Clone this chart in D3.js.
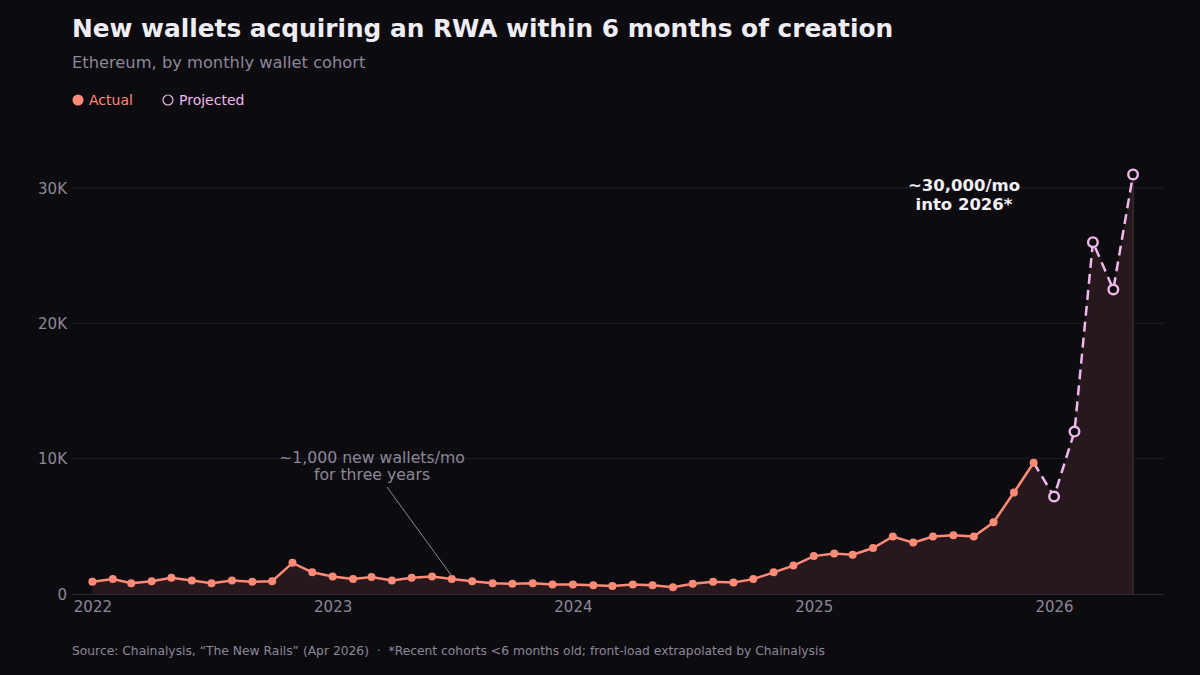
<!DOCTYPE html>
<html><head><meta charset="utf-8">
<script src="https://cdn.jsdelivr.net/npm/d3@7"></script>
<style>
html,body{margin:0;padding:0;background:#0c0b10;}
svg{display:block;font-family:"DejaVu Sans",sans-serif;}
text{white-space:pre;}
</style></head>
<body><svg id="c" width="1200" height="675"></svg>
<script>
const months = ["2022-01","2022-02","2022-03","2022-04","2022-05","2022-06","2022-07","2022-08","2022-09","2022-10","2022-11","2022-12",
"2023-01","2023-02","2023-03","2023-04","2023-05","2023-06","2023-07","2023-08","2023-09","2023-10","2023-11","2023-12",
"2024-01","2024-02","2024-03","2024-04","2024-05","2024-06","2024-07","2024-08","2024-09","2024-10","2024-11","2024-12",
"2025-01","2025-02","2025-03","2025-04","2025-05","2025-06","2025-07","2025-08","2025-09","2025-10","2025-11","2025-12"];
const actual = [900,1100,800,950,1200,1000,800,1000,900,950,2300,1600,
1300,1100,1250,1000,1200,1300,1100,950,800,750,800,700,
700,650,600,700,650,500,750,900,850,1100,1600,2100,
2800,3000,2900,3400,4250,3800,4250,4350,4250,5300,7500,9700];
const projMonths = ["2025-12","2026-01","2026-02","2026-03","2026-04","2026-05"];
const projected = [9700,7200,12000,26000,22500,31000];
const yTicks = [0,10000,20000,30000];
const yTickLabels = ["0","10K","20K","30K"];
const xTickYears = ["2022","2023","2024","2025","2026"];

const svg = d3.select("#c");
const parse = d3.timeParse("%Y-%m");
const x = d3.scaleTime().domain([new Date(2021,11,1), new Date(2026,5,17)]).range([72,1164]);
const y = d3.scaleLinear().domain([0,30000]).range([594,188]);

const bg = "#0c0b10";
const salmon = "#ff8a76";
const pink = "#f0b8ec";
const muted = "#8d8797";

// grid
svg.append("g").selectAll("line").data(yTicks.slice(1)).join("line")
  .attr("x1",72).attr("x2",1164).attr("y1",d=>y(d)).attr("y2",d=>y(d))
  .attr("stroke","#201e26").attr("stroke-width",1);

const actualData = months.map((m,i)=>({d:parse(m),v:actual[i]}));
const projData = projMonths.map((m,i)=>({d:parse(m),v:projected[i]}));
const allData = actualData.concat(projData.slice(1));

// area
svg.append("path").datum(allData)
  .attr("d", d3.area().x(d=>x(d.d)).y0(y(0)).y1(d=>y(d.v)))
  .attr("fill","#2a1a20").attr("fill-opacity",0.9);
svg.append("line").attr("x1",x(allData[allData.length-1].d)).attr("x2",x(allData[allData.length-1].d))
  .attr("y1",y(projected[projected.length-1])).attr("y2",y(0)).attr("stroke","#3a2a30").attr("stroke-width",1.5);

// baseline axis
svg.append("line").attr("x1",72).attr("x2",1164).attr("y1",y(0)+0.5).attr("y2",y(0)+0.5)
  .attr("stroke","#2a2830").attr("stroke-width",1);

// y axis labels
const yAxis = d3.axisLeft(y).tickValues(yTicks).tickFormat((d,i)=>yTickLabels[i]).tickSize(0).tickPadding(0);
const gy = svg.append("g").attr("transform","translate(67,0)").call(yAxis);
gy.select(".domain").remove();
gy.selectAll("text").attr("fill",muted).attr("font-size",15).attr("font-family","DejaVu Sans").attr("dy","0.35em");

// x axis labels
const xAxis = d3.axisBottom(x).tickValues(xTickYears.map(s=>new Date(+s,0,1))).tickFormat(d3.timeFormat("%Y")).tickSize(0).tickPadding(0);
const gx = svg.append("g").attr("transform","translate(0,598)").call(xAxis);
gx.select(".domain").remove();
gx.selectAll("text").attr("fill",muted).attr("font-size",15).attr("font-family","DejaVu Sans").attr("dy","0.95em");

// lines
svg.append("path").datum(projData)
  .attr("d", d3.line().x(d=>x(d.d)).y(d=>y(d.v)))
  .attr("fill","none").attr("stroke",pink).attr("stroke-width",2.5).attr("stroke-dasharray","10,6");
svg.append("path").datum(actualData)
  .attr("d", d3.line().x(d=>x(d.d)).y(d=>y(d.v)))
  .attr("fill","none").attr("stroke",salmon).attr("stroke-width",2.5);

svg.append("g").selectAll("circle").data(actualData).join("circle")
  .attr("cx",d=>x(d.d)).attr("cy",d=>y(d.v)).attr("r",4).attr("fill",salmon);
svg.append("g").selectAll("circle").data(projData.slice(1)).join("circle")
  .attr("cx",d=>x(d.d)).attr("cy",d=>y(d.v)).attr("r",4.8).attr("fill",bg).attr("stroke",pink).attr("stroke-width",2.4);

// annotation 1
const a1 = actualData[18];
svg.append("line").attr("x1",387).attr("y1",487).attr("x2",x(a1.d)).attr("y2",y(a1.v)-3)
  .attr("stroke","#8d8797").attr("stroke-width",1);
const t1 = svg.append("text").attr("x",372).attr("y",463).attr("text-anchor","middle")
  .attr("fill",muted).attr("font-size",15.7);
t1.append("tspan").attr("x",372).text("~1,000 new wallets/mo");
t1.append("tspan").attr("x",372).attr("dy",17).text("for three years");

// annotation 2
const t2 = svg.append("text").attr("x",964).attr("y",191).attr("text-anchor","middle")
  .attr("fill","#f3f0f6").attr("font-size",16.5).attr("font-weight","bold");
t2.append("tspan").attr("x",964).text("~30,000/mo");
t2.append("tspan").attr("x",964).attr("dy",19).text("into 2026*");

// title
svg.append("text").attr("x",72).attr("y",37).attr("fill","#f0eef4").attr("font-size",24.8).attr("font-weight","bold")
  .text("New wallets acquiring an RWA within 6 months of creation");
svg.append("text").attr("x",72).attr("y",68).attr("fill",muted).attr("font-size",16.3)
  .text("Ethereum, by monthly wallet cohort");

// legend
const lg = svg.append("g");
lg.append("circle").attr("cx",78).attr("cy",100).attr("r",5.5).attr("fill",salmon);
lg.append("text").attr("x",89).attr("y",105).attr("fill",salmon).attr("font-size",14).text("Actual");
lg.append("circle").attr("cx",168).attr("cy",100).attr("r",5).attr("fill","none").attr("stroke",pink).attr("stroke-width",1.2);
lg.append("text").attr("x",179).attr("y",105).attr("fill",pink).attr("font-size",14).text("Projected");

// footer
svg.append("text").attr("x",72).attr("y",655).attr("fill",muted).attr("font-size",12.3)
  .text("Source: Chainalysis, \u201CThe New Rails\u201D (Apr 2026)  \u00B7  *Recent cohorts <6 months old; front-load extrapolated by Chainalysis");
</script></body></html>
